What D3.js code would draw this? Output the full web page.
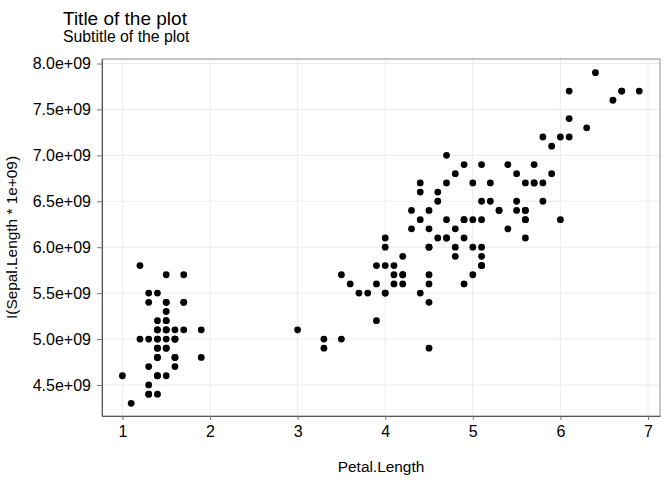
<!DOCTYPE html>
<html>
<head>
<meta charset="utf-8">
<script src="https://cdn.jsdelivr.net/npm/d3@7"></script>
<style>
  body { margin: 0; background: #fff; }
  text { font-family: "Liberation Sans", Arial, sans-serif; }
</style>
</head>
<body>
<svg id="chart" width="672" height="480"></svg>
<script>
// iris: Petal.Length vs Sepal.Length (scaled by 1e9)
var petalLength = [
  1.4,1.4,1.3,1.5,1.4,1.7,1.4,1.5,1.4,1.5,1.5,1.6,1.4,1.1,1.2,1.5,1.3,1.4,1.7,1.5,
  1.7,1.5,1.0,1.7,1.9,1.6,1.6,1.5,1.4,1.6,1.6,1.5,1.5,1.4,1.5,1.2,1.3,1.4,1.3,1.5,
  1.3,1.3,1.3,1.6,1.9,1.4,1.6,1.4,1.5,1.4,
  4.7,4.5,4.9,4.0,4.6,4.5,4.7,3.3,4.6,3.9,3.5,4.2,4.0,4.7,3.6,4.4,4.5,4.1,4.5,3.9,
  4.8,4.0,4.9,4.7,4.3,4.4,4.8,5.0,4.5,3.5,3.8,3.7,3.9,5.1,4.5,4.5,4.7,4.4,4.1,4.0,
  4.4,4.6,4.0,3.3,4.2,4.2,4.2,4.3,3.0,4.1,
  6.0,5.1,5.9,5.6,5.8,6.6,4.5,6.3,5.8,6.1,5.1,5.3,5.5,5.0,5.1,5.3,5.5,6.7,6.9,5.0,
  5.7,4.9,6.7,4.9,5.7,6.0,4.8,4.9,5.6,5.8,6.1,6.4,5.6,5.1,5.6,6.1,5.6,5.5,4.8,5.4,
  5.6,5.1,5.1,5.9,5.7,5.2,5.0,5.2,5.4,5.1
];
var sepalLength = [
  5.1,4.9,4.7,4.6,5.0,5.4,4.6,5.0,4.4,4.9,5.4,4.8,4.8,4.3,5.8,5.7,5.4,5.1,5.7,5.1,
  5.4,5.1,4.6,5.1,4.8,5.0,5.0,5.2,5.2,4.7,4.8,5.4,5.2,5.5,4.9,5.0,5.5,4.9,4.4,5.1,
  5.0,4.5,4.4,5.0,5.1,4.8,5.1,4.6,5.3,5.0,
  7.0,6.4,6.9,5.5,6.5,5.7,6.3,4.9,6.6,5.2,5.0,5.9,6.0,6.1,5.6,6.7,5.6,5.8,6.2,5.6,
  5.9,6.1,6.3,6.1,6.4,6.6,6.8,6.7,6.0,5.7,5.5,5.5,5.8,6.0,5.4,6.0,6.7,6.3,5.6,5.5,
  5.5,6.1,5.8,5.0,5.6,5.7,5.7,6.2,5.1,5.7,
  6.3,5.8,7.1,6.3,6.5,7.6,4.9,7.3,6.7,7.2,6.5,6.4,6.8,5.7,5.8,6.4,6.5,7.7,7.7,6.0,
  6.9,5.6,7.7,6.3,6.7,7.2,6.2,6.1,6.4,7.2,7.4,7.9,6.4,6.3,6.1,7.7,6.3,6.4,6.0,6.9,
  6.7,6.9,5.8,6.8,6.7,6.7,6.3,6.5,6.2,5.9
];
var xTicks = [1, 2, 3, 4, 5, 6, 7];
var yTicks = [4.5e9, 5.0e9, 5.5e9, 6.0e9, 6.5e9, 7.0e9, 7.5e9, 8.0e9];

var points = petalLength.map(function(d, i) {
  return { x: d, y: sepalLength[i] * 1e9 };
});

var svg = d3.select("#chart");
var pLeft = 102, pRight = 660, pTop = 59, pBottom = 416;

var x = d3.scaleLinear().domain([0.767, 7.137]).range([pLeft, pRight]);
var y = d3.scaleLinear().domain([4.162e9, 8.049e9]).range([pBottom, pTop]);

// grid
svg.append("g").selectAll("line").data(xTicks).join("line")
  .attr("x1", d => x(d)).attr("x2", d => x(d))
  .attr("y1", pTop).attr("y2", pBottom)
  .attr("stroke", "#ebebeb").attr("stroke-width", 1);
svg.append("g").selectAll("line").data(yTicks).join("line")
  .attr("x1", pLeft).attr("x2", pRight)
  .attr("y1", d => y(d)).attr("y2", d => y(d))
  .attr("stroke", "#ebebeb").attr("stroke-width", 1);

// points
svg.append("g").selectAll("circle").data(points).join("circle")
  .attr("cx", d => x(d.x))
  .attr("cy", d => y(d.y))
  .attr("r", 3.4)
  .attr("fill", "#000");

// border
svg.append("rect")
  .attr("x", pLeft).attr("y", pTop)
  .attr("width", pRight - pLeft).attr("height", pBottom - pTop)
  .attr("fill", "none").attr("stroke", "#8c8c8c").attr("stroke-width", 1);

// axes
var fmt = function(d) { return (d / 1e9).toFixed(1) + "e+09"; };

var xAxis = svg.append("g")
  .attr("transform", "translate(0," + pBottom + ")")
  .call(d3.axisBottom(x).tickValues(xTicks).tickFormat(d3.format("d"))
    .tickSize(4).tickSizeOuter(0).tickPadding(6));
var yAxis = svg.append("g")
  .attr("transform", "translate(" + pLeft + ",0)")
  .call(d3.axisLeft(y).tickValues(yTicks).tickFormat(fmt)
    .tickSize(5).tickSizeOuter(0).tickPadding(6));

[xAxis, yAxis].forEach(function(a) {
  a.select(".domain").attr("stroke", "#555");
  a.selectAll(".tick line").attr("stroke", "#777");
  a.selectAll(".tick text").attr("fill", "#000")
    .style("font-size", "16px")
    .style("font-family", "'Liberation Sans', Arial, sans-serif");
});

// titles
svg.append("text").attr("x", 63).attr("y", 25)
  .style("font-size", "19px").text("Title of the plot");
svg.append("text").attr("x", 63).attr("y", 42)
  .style("font-size", "15.8px").text("Subtitle of the plot");

svg.append("text")
  .attr("x", (pLeft + pRight) / 2).attr("y", 472)
  .attr("text-anchor", "middle")
  .style("font-size", "15.4px").text("Petal.Length");

svg.append("text")
  .attr("transform", "translate(17," + ((pTop + pBottom) / 2) + ") rotate(-90)")
  .attr("text-anchor", "middle")
  .style("font-size", "15.4px").text("I(Sepal.Length * 1e+09)");
</script>
</body>
</html>
